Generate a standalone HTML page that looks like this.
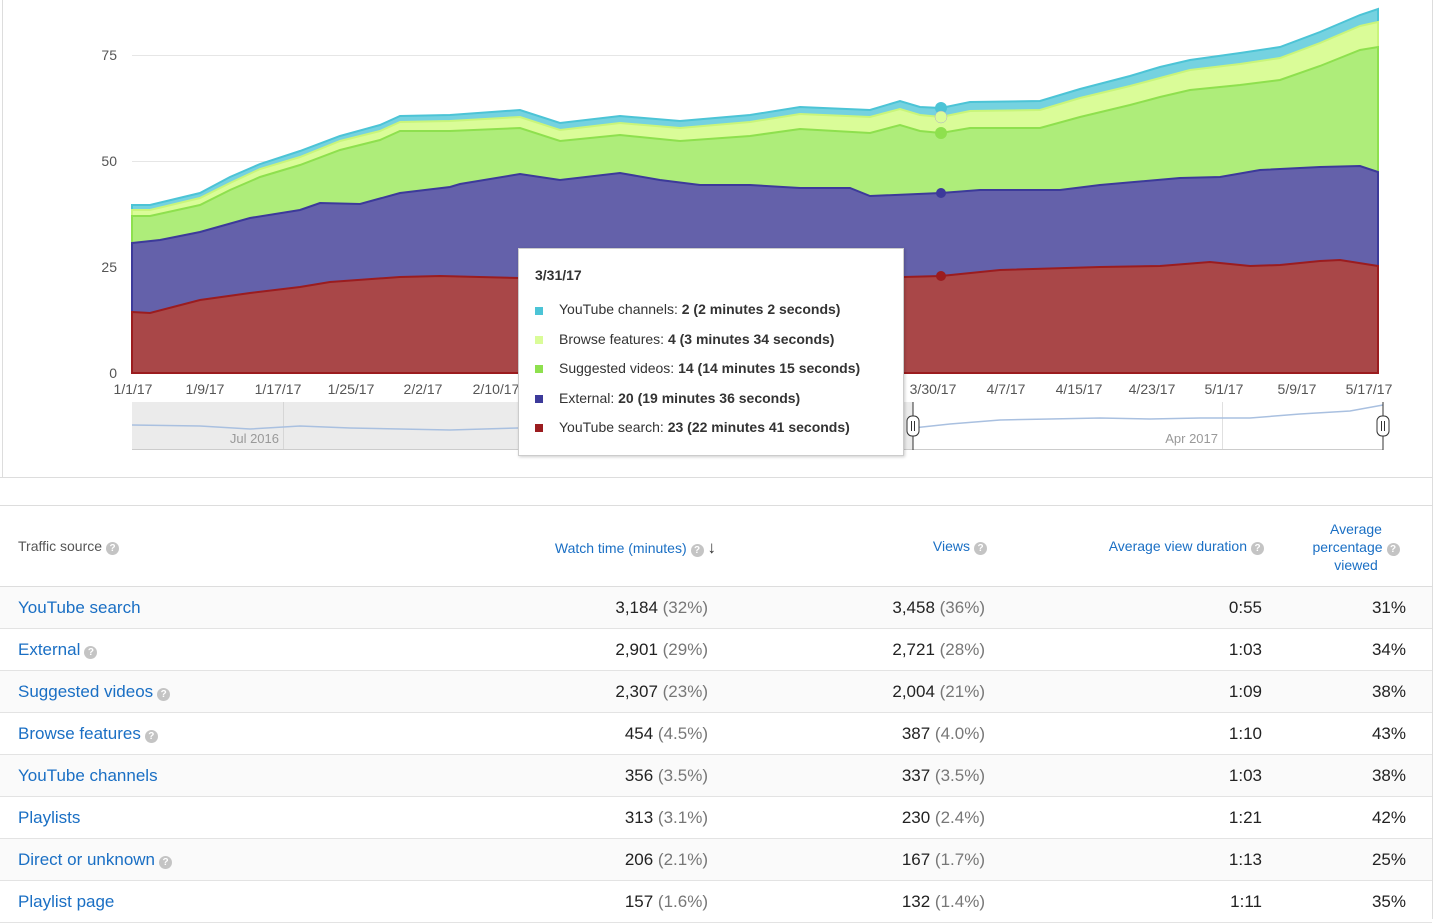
<!DOCTYPE html>
<html><head><meta charset="utf-8"><style>
body{margin:0;width:1434px;height:919px;overflow:hidden;background:#fff;font-family:"Liberation Sans",sans-serif;position:relative}
.a{position:absolute}
.t{font-size:14px;color:#555}
.q{display:inline-block;width:13px;height:13px;border-radius:50%;background:#c4c4c4;color:#fff;font-size:10px;line-height:13px;text-align:center;font-weight:bold;vertical-align:0px;margin-left:4px}
.hd{font-size:14px;color:#1a6fc4;text-align:right}
.row{position:absolute;left:0;width:1432px;height:41px;border-bottom:1px solid #e3e3e3;font-size:17px;color:#222}
.row>span{position:absolute;top:11px;white-space:nowrap}
.row>.n{left:18px;color:#1a6fc4}
.g{color:#777}
.tt{font-size:14px;color:#333;position:absolute;left:40px}
.sq{position:absolute;left:16px;width:8px;height:8px}
</style></head><body>
<div class="a" style="left:2px;top:0;width:1px;height:477px;background:#ddd"></div>
<div class="a" style="left:1432px;top:0;width:1px;height:919px;background:#ddd"></div>
<div class="a" style="left:0;top:477px;width:1432px;height:1px;background:#ddd"></div>
<div class="a" style="left:0;top:505px;width:1432px;height:1px;background:#ddd"></div>
<svg class="a" style="left:0;top:0" width="1434" height="460">
<g stroke="#e6e6e6" stroke-width="1"><line x1="132" x2="1378" y1="55.5" y2="55.5"/><line x1="132" x2="1378" y1="161.5" y2="161.5"/><line x1="132" x2="1378" y1="267.5" y2="267.5"/></g>
<g font-family="Liberation Sans" font-size="14" fill="#555">
<text x="117" y="60" text-anchor="end">75</text><text x="117" y="166" text-anchor="end">50</text><text x="117" y="272" text-anchor="end">25</text><text x="117" y="378" text-anchor="end">0</text>
<g text-anchor="middle"><text x="133" y="394">1/1/17</text><text x="205" y="394">1/9/17</text><text x="278" y="394">1/17/17</text><text x="351" y="394">1/25/17</text><text x="423" y="394">2/2/17</text><text x="496" y="394">2/10/17</text><text x="933" y="394">3/30/17</text><text x="1006" y="394">4/7/17</text><text x="1079" y="394">4/15/17</text><text x="1152" y="394">4/23/17</text><text x="1224" y="394">5/1/17</text><text x="1297" y="394">5/9/17</text><text x="1369" y="394">5/17/17</text></g>
</g>
<path d="M132,205 L150,205 200,193 230,177 260,164 300,151 340,136 380,125 400,116 450,115 520,110 560,123 620,116 680,121 750,115 800,107 870,110 900,101 920,107 941,108 970,102 1040,101 1080,89 1130,76 1160,67 1190,60 1240,53 1280,47 1320,32 1360,15 1378,9 L1378,373 L132,373Z" fill="#75d2e0" stroke="#4cc4d6" stroke-width="2"/>
<path d="M132,210 L150,210 200,198 230,183 260,169 300,157 340,141 380,131 400,122 450,121 520,117 560,130 620,123 680,128 750,122 800,114 870,117 900,109 920,115 941,117 970,111 1040,110 1080,98 1130,86 1160,78 1190,70 1240,64 1280,58 1320,43 1360,26 1378,22 L1378,373 L132,373Z" fill="#dafc98" stroke="#c9f57a" stroke-width="2"/>
<path d="M132,216 L150,216 200,205 230,190 260,177 300,165 340,150 380,140 400,131 450,131 520,128 560,141 620,135 680,141 750,136 800,129 870,133 900,125 920,131 941,133 970,128 1040,128 1080,117 1130,105 1160,97 1190,90 1240,85 1280,80 1320,66 1360,50 1378,47 L1378,373 L132,373Z" fill="#aeed7a" stroke="#8ee04e" stroke-width="2"/>
<path d="M132,243 L160,240 200,232 250,218 300,210 320,203 360,204 400,193 450,187 460,184 520,174 560,180 620,173 660,180 700,185 750,185 800,188 850,188 870,196 941,193 980,190 1060,190 1100,185 1180,178 1220,177 1260,170 1320,167 1360,166 1378,172 L1378,373 L132,373Z" fill="#6461aa" stroke="#3c3a9a" stroke-width="2"/>
<path d="M132,312 L150,313 200,300 250,293 300,287 330,282 400,277 440,276 518,278 904,277 941,276 1000,270 1100,267 1160,266 1210,262 1250,266 1280,265 1320,261 1340,260 1378,266 L1378,373 L132,373Z" fill="#a94748" stroke="#9b1c1f" stroke-width="2"/>
<circle cx="941" cy="108" r="6" fill="#4cc4d6"/><circle cx="941" cy="117" r="6" fill="#dafc98" stroke="#aac" stroke-width="0.5"/><circle cx="941" cy="133" r="6" fill="#8ee04e"/><circle cx="941" cy="193" r="5" fill="#3c3a9a"/><circle cx="941" cy="276" r="5" fill="#9b1c1f"/>
<rect x="132" y="402" width="781" height="47" fill="#ebebeb"/>
<line x1="132" x2="1383" y1="449.5" y2="449.5" stroke="#ccc"/>
<line x1="283.5" x2="283.5" y1="402" y2="449" stroke="#d6d6d6"/><line x1="1222.5" x2="1222.5" y1="402" y2="449" stroke="#e0e0e0"/>
<path d="M132,425 L200,426 250,429 300,426 350,428 400,429 450,430 518,428 M913,428 L950,424 1000,420 1050,419 1100,418 1150,419 1200,418 1250,418 1300,414 1350,411 1383,405" fill="none" stroke="#a9c0e0" stroke-width="1.5"/>
<g font-family="Liberation Sans" font-size="13" fill="#999"><text x="279" y="443" text-anchor="end">Jul 2016</text><text x="1218" y="443" text-anchor="end">Apr 2017</text></g>
<line x1="913" x2="913" y1="402" y2="450" stroke="#333"/><line x1="1383" x2="1383" y1="402" y2="450" stroke="#333"/>
<rect x="907" y="416" width="12" height="20" rx="5" fill="#fff" stroke="#333"/><rect x="1377" y="416" width="12" height="20" rx="5" fill="#fff" stroke="#333"/>
<g stroke="#333"><line x1="911.5" x2="911.5" y1="421" y2="431"/><line x1="914.5" x2="914.5" y1="421" y2="431"/><line x1="1381.5" x2="1381.5" y1="421" y2="431"/><line x1="1384.5" x2="1384.5" y1="421" y2="431"/></g>
</svg>
<div class="a" style="left:518px;top:248px;width:384px;height:206px;background:#fff;border:1px solid #ccc;box-shadow:1px 1px 3px rgba(0,0,0,.2)">
<div class="a" style="left:16px;top:18px;font-size:14px;font-weight:bold;color:#333">3/31/17</div>
<div class="sq" style="top:58px;background:#4cc4d6"></div><div class="tt" style="top:52px">YouTube channels: <b>2 (2 minutes 2 seconds)</b></div>
<div class="sq" style="top:87px;background:#dafc98"></div><div class="tt" style="top:82px">Browse features: <b>4 (3 minutes 34 seconds)</b></div>
<div class="sq" style="top:116px;background:#8ee04e"></div><div class="tt" style="top:111px">Suggested videos: <b>14 (14 minutes 15 seconds)</b></div>
<div class="sq" style="top:146px;background:#3c3a9a"></div><div class="tt" style="top:141px">External: <b>20 (19 minutes 36 seconds)</b></div>
<div class="sq" style="top:175px;background:#9b1c1f"></div><div class="tt" style="top:170px">YouTube search: <b>23 (22 minutes 41 seconds)</b></div>
</div>
<div class="a t" style="left:18px;top:538px">Traffic source<span class="q">?</span></div>
<div class="a hd" style="right:718px;top:538px">Watch time (minutes)<span class="q">?</span> <span style="color:#333;font-size:17px;font-weight:bold">&#8595;</span></div>
<div class="a hd" style="right:447px;top:538px">Views<span class="q">?</span></div>
<div class="a hd" style="right:170px;top:538px">Average view duration<span class="q">?</span></div>
<div class="a hd" style="right:28px;top:520px;line-height:18px;text-align:center;width:100px">Average<br>percentage<span class="q">?</span><br>viewed</div>
<div class="a" style="left:0;top:586px;width:1432px;height:1px;background:#ddd"></div>
<div class="row" style="top:587px;background:#fafafa"><span class="n">YouTube search</span><span style="right:724px">3,184 <span class="g">(32%)</span></span><span style="right:447px">3,458 <span class="g">(36%)</span></span><span style="right:170px">0:55</span><span style="right:26px">31%</span></div>
<div class="row" style="top:629px"><span class="n">External<span class="q">?</span></span><span style="right:724px">2,901 <span class="g">(29%)</span></span><span style="right:447px">2,721 <span class="g">(28%)</span></span><span style="right:170px">1:03</span><span style="right:26px">34%</span></div>
<div class="row" style="top:671px;background:#fafafa"><span class="n">Suggested videos<span class="q">?</span></span><span style="right:724px">2,307 <span class="g">(23%)</span></span><span style="right:447px">2,004 <span class="g">(21%)</span></span><span style="right:170px">1:09</span><span style="right:26px">38%</span></div>
<div class="row" style="top:713px"><span class="n">Browse features<span class="q">?</span></span><span style="right:724px">454 <span class="g">(4.5%)</span></span><span style="right:447px">387 <span class="g">(4.0%)</span></span><span style="right:170px">1:10</span><span style="right:26px">43%</span></div>
<div class="row" style="top:755px;background:#fafafa"><span class="n">YouTube channels</span><span style="right:724px">356 <span class="g">(3.5%)</span></span><span style="right:447px">337 <span class="g">(3.5%)</span></span><span style="right:170px">1:03</span><span style="right:26px">38%</span></div>
<div class="row" style="top:797px"><span class="n">Playlists</span><span style="right:724px">313 <span class="g">(3.1%)</span></span><span style="right:447px">230 <span class="g">(2.4%)</span></span><span style="right:170px">1:21</span><span style="right:26px">42%</span></div>
<div class="row" style="top:839px;background:#fafafa"><span class="n">Direct or unknown<span class="q">?</span></span><span style="right:724px">206 <span class="g">(2.1%)</span></span><span style="right:447px">167 <span class="g">(1.7%)</span></span><span style="right:170px">1:13</span><span style="right:26px">25%</span></div>
<div class="row" style="top:881px"><span class="n">Playlist page</span><span style="right:724px">157 <span class="g">(1.6%)</span></span><span style="right:447px">132 <span class="g">(1.4%)</span></span><span style="right:170px">1:11</span><span style="right:26px">35%</span></div>
</body></html>
